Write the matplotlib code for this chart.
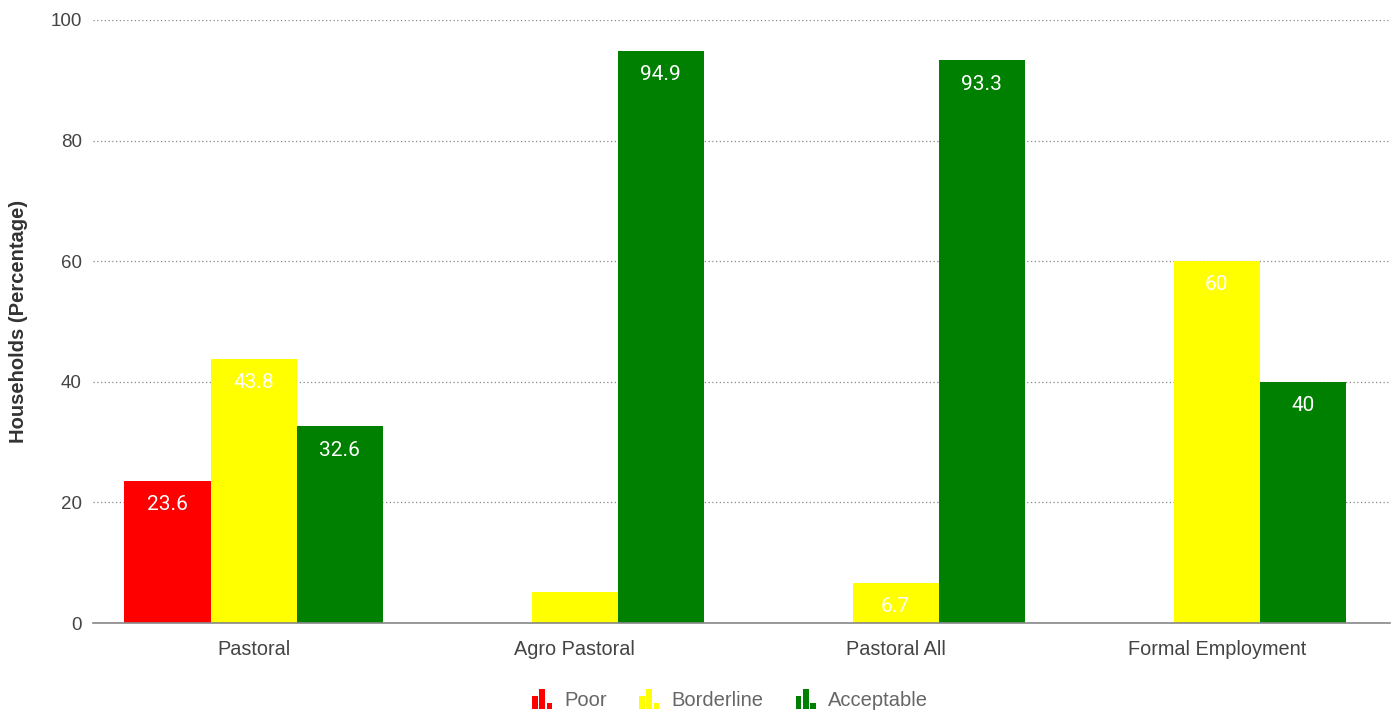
import matplotlib
matplotlib.use("Agg")
import matplotlib.pyplot as plt
import numpy as np
from matplotlib.legend_handler import HandlerBase
from matplotlib.patches import Rectangle

categories = ["Pastoral", "Agro Pastoral", "Pastoral All", "Formal Employment"]
series_names = ["Poor", "Borderline", "Acceptable"]
poor = [23.6, 0, 0, 0]
borderline = [43.8, 5.1, 6.7, 60]
acceptable = [32.6, 94.9, 93.3, 40]
# labels shown on the chart (None = not shown)
poor_labels = ["23.6", None, None, None]
borderline_labels = ["43.8", None, "6.7", "60"]
acceptable_labels = ["32.6", "94.9", "93.3", "40"]
colors = ["#ff0000", "#ffff00", "#008000"]
yticks = [0, 20, 40, 60, 80, 100]

plt.rcParams['font.family'] = ['Liberation Sans', 'DejaVu Sans']

fig = plt.figure(figsize=(13.93, 7.15), dpi=100)
ax = fig.add_axes([93/1393, 1 - 623/715, (1390-93)/1393, (623-20)/715])

x = np.arange(len(categories))
w = 0.268
data = [poor, borderline, acceptable]
labels = [poor_labels, borderline_labels, acceptable_labels]
for i, (vals, labs, c) in enumerate(zip(data, labels, colors)):
    xs = x + (i - 1) * w
    ax.bar(xs, vals, width=w, color=c, label=series_names[i], zorder=3)
    for xi, v, lab in zip(xs, vals, labs):
        if lab is None:
            continue
        ax.annotate(lab, (xi, v), xytext=(0, -17), textcoords="offset points",
                    ha="center", va="center", color="white", fontsize=15,
                    family=['Roboto', 'DejaVu Sans'], zorder=4)

ax.set_xlim(-0.5, 3.54)
ax.set_ylim(0, 100)
ax.set_yticks(yticks)
ax.set_xticks(x)
ax.set_xticklabels(categories, fontsize=14.3)
ax.tick_params(axis="both", length=0, labelsize=13.5, colors="#444444", pad=8)
ax.tick_params(axis="x", labelsize=14.3, pad=12)
ax.yaxis.grid(True, linestyle=(0, (1, 2)), color="#888888", linewidth=0.9, zorder=0)
for s in ["top", "right", "left"]:
    ax.spines[s].set_visible(False)
ax.spines["bottom"].set_color("#888888")
ax.spines["bottom"].set_linewidth(1.2)
ax.spines["bottom"].set_zorder(5)
ax.set_ylabel("Households (Percentage)", fontsize=14.5, fontweight="bold", color="#333333", labelpad=16)


class BarIconHandler(HandlerBase):
    def create_artists(self, legend, orig_handle, xdescent, ydescent, width, height, fontsize, trans):
        col = orig_handle.get_facecolor()
        arts = []
        bw = width / 3.6
        gap = (width - 3 * bw) / 2
        hs = [0.65, 1.0, 0.3]
        for k, hh in enumerate(hs):
            r = Rectangle((-xdescent + k * (bw + gap), -ydescent - 2), bw, (height + 3) * hh,
                          facecolor=col, edgecolor="none", transform=trans)
            arts.append(r)
        return arts


handles = [c.patches[0] for c in ax.containers]
leg = fig.legend(handles, series_names, loc="center", bbox_to_anchor=(730/1393, 1 - 700/715),
                 ncol=3, frameon=False, fontsize=14.5, handlelength=1.0, handleheight=0.8,
                 columnspacing=1.6, handletextpad=0.6,
                 handler_map={type(handles[0]): BarIconHandler()})
for t in leg.get_texts():
    t.set_color("#666666")

fig.savefig("out.png", dpi=100, facecolor="white")
